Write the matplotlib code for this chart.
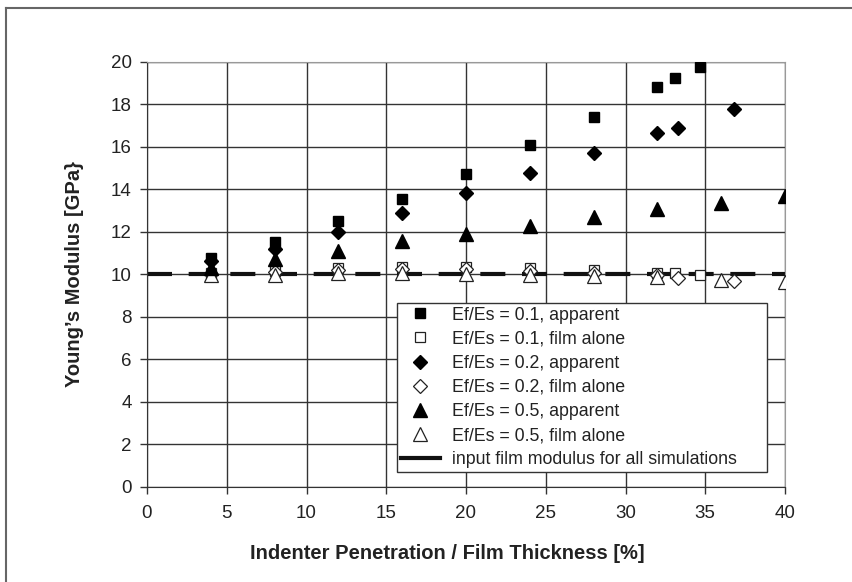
import matplotlib
matplotlib.use("Agg")
import matplotlib.pyplot as plt
from matplotlib.lines import Line2D

plt.rcParams['font.family'] = ['Liberation Sans', 'DejaVu Sans']

# Ef/Es = 0.1
x_01_app = [4, 8, 12, 16, 20, 24, 28, 32, 33.1, 34.7]
y_01_app = [10.75, 11.5, 12.5, 13.55, 14.72, 16.1, 17.38, 18.82, 19.22, 19.76]
x_01_film = [4, 8, 12, 16, 20, 24, 28, 32, 33.1, 34.7]
y_01_film = [10.05, 10.15, 10.3, 10.35, 10.35, 10.3, 10.2, 10.05, 10.05, 9.95]

# Ef/Es = 0.2
x_02_app = [4, 8, 12, 16, 20, 24, 28, 32, 33.3, 36.8]
y_02_app = [10.6, 11.2, 12.0, 12.9, 13.8, 14.75, 15.7, 16.65, 16.88, 17.76]
x_02_film = [4, 8, 12, 16, 20, 24, 28, 32, 33.3, 36.8]
y_02_film = [10.0, 10.1, 10.2, 10.25, 10.25, 10.15, 10.05, 9.95, 9.8, 9.7]

# Ef/Es = 0.5
x_05_app = [4, 8, 12, 16, 20, 24, 28, 32, 36, 40]
y_05_app = [10.3, 10.7, 11.1, 11.55, 11.9, 12.28, 12.68, 13.05, 13.33, 13.68]
x_05_film = [4, 8, 12, 16, 20, 24, 28, 32, 36, 40]
y_05_film = [9.95, 9.95, 10.05, 10.05, 10.0, 9.95, 9.9, 9.85, 9.75, 9.65]

input_x = [0, 40]
input_y = [10, 10]

labels = ['Ef/Es = 0.1, apparent', 'Ef/Es = 0.1, film alone',
          'Ef/Es = 0.2, apparent', 'Ef/Es = 0.2, film alone',
          'Ef/Es = 0.5, apparent', 'Ef/Es = 0.5, film alone',
          'input film modulus for all simulations']

fig = plt.figure(figsize=(8.52, 5.82), dpi=100)
ax = fig.add_axes([147/852, 1 - 486.7/582, (785 - 147)/852, (486.7 - 61.7)/582])

ax.plot(input_x, input_y, color='#111111', lw=3.0, dashes=(6, 4), zorder=2,
        label=labels[6])

filled = dict(ls='none', color='black', markeredgecolor='black', zorder=4)
hollow = dict(ls='none', markerfacecolor='white', markeredgecolor='#222222',
              markeredgewidth=0.9, zorder=3)

h1, = ax.plot(x_01_app, y_01_app, marker='s', ms=7, label=labels[0], **filled)
h2, = ax.plot(x_01_film, y_01_film, marker='s', ms=7, label=labels[1], **hollow)
h3, = ax.plot(x_02_app, y_02_app, marker='D', ms=7, label=labels[2], **filled)
h4, = ax.plot(x_02_film, y_02_film, marker='D', ms=7, label=labels[3], **hollow)
h5, = ax.plot(x_05_app, y_05_app, marker='^', ms=9.5, label=labels[4], **filled)
h6, = ax.plot(x_05_film, y_05_film, marker='^', ms=9.5, label=labels[5], **hollow)

ax.set_xlim(0, 40)
ax.set_ylim(0, 20)
ax.set_xticks(range(0, 41, 5))
ax.set_yticks(range(0, 21, 2))
ax.grid(True, color='#333333', lw=1.0)
ax.set_axisbelow(True)
ax.tick_params(direction='out', width=1, color='#333333',
               labelsize=13.5, labelcolor='#222222')
ax.tick_params(axis='x', length=5, pad=8)
ax.tick_params(axis='y', length=5, pad=6)
for side in ['left', 'bottom']:
    ax.spines[side].set_color('#333333')
for side in ['top', 'right']:
    ax.spines[side].set_color('#999999')

ax.set_xlabel('Indenter Penetration / Film Thickness [%]', fontsize=14.5,
              fontweight='bold', color='#222222')
ax.set_ylabel('Young\u2019s Modulus [GPa}', fontsize=14.5, fontweight='bold',
              color='#222222')
ax.xaxis.set_label_coords(0.47, -0.135)
ax.yaxis.set_label_coords(-0.098, 0.5)

line_handle = Line2D([], [], color='#111111', lw=3.0)
leg = ax.legend([h1, h2, h3, h4, h5, h6, line_handle], labels,
                loc='lower left', mode='expand',
                bbox_to_anchor=(0.392, 0.035, 0.58, 0.395),
                borderaxespad=0,
                fontsize=12.8, frameon=True, fancybox=False, framealpha=1,
                edgecolor='#333333', borderpad=0.2, labelspacing=0.4,
                handlelength=2.2, handletextpad=0.7)
leg.get_frame().set_linewidth(1.0)
for t in leg.get_texts():
    t.set_color('#222222')

# outer frame of the figure
fig.add_artist(Line2D([6/852, 6/852], [0, 1 - 8/582], color='#666666', lw=1.5))
fig.add_artist(Line2D([6/852, 1], [1 - 8/582, 1 - 8/582], color='#666666', lw=1.5))

fig.savefig('out.png', dpi=100)
